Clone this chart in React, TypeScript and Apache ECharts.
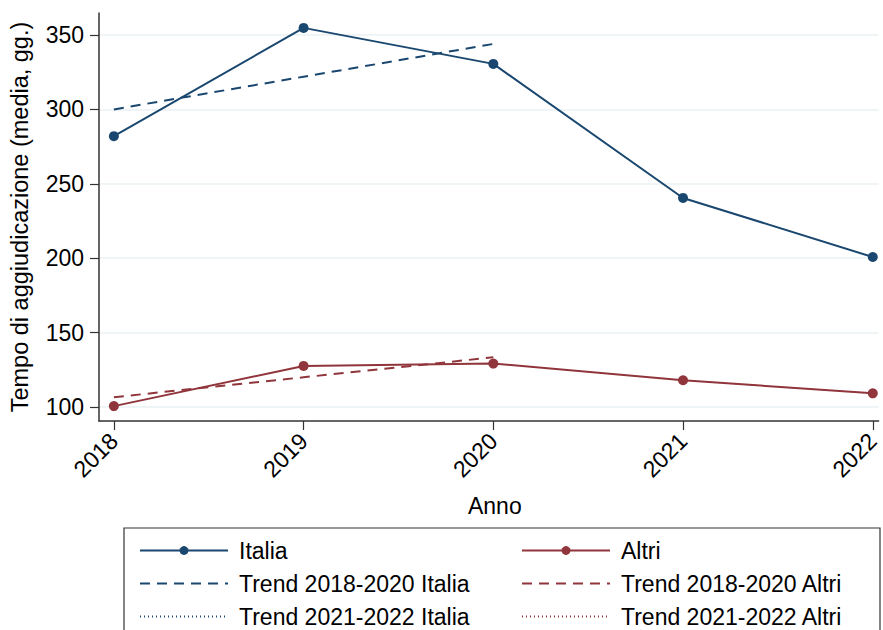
import React, { useEffect, useRef } from "react";
import * as echarts from "echarts";

const years = [2018, 2019, 2020, 2021, 2022];
const italia = [282, 354.8, 330.6, 240.5, 200.8];
const altri = [100.6, 127.6, 129.2, 118, 109.2];
const trend1820Italia = [300, 322, 344, null, null];
const trend1820Altri = [106.6, 120, 133.4, null, null];
const trend2122Italia = [null, null, null, 240.5, 200.8];
const trend2122Altri = [null, null, null, 118, 109.2];
const yTicks = [100, 150, 200, 250, 300, 350];

const NAVY = "#1a476f";
const MAROON = "#90353b";

const pairs = (vals: (number | null)[]) => years.map((y, i) => [y, vals[i]]);

export default function App() {
  const ref = useRef<HTMLDivElement>(null);
  useEffect(() => {
    document.body.style.margin = "0";
    const chart = echarts.init(ref.current!, null, { renderer: "svg" });
    const font = "Liberation Sans, Arial, sans-serif";
    const lineSeries = (name: string, vals: (number | null)[], color: string, type: any, width: number, sym: boolean, z: number) => ({
      name,
      type: "line",
      data: pairs(vals),
      z,
      symbol: sym ? "circle" : "none",
      symbolSize: 10,
      showSymbol: sym,
      connectNulls: false,
      lineStyle: { color, width, type },
      itemStyle: { color },
    });
    const legendText = { fontSize: 23, color: "#000", lineHeight: 22, padding: [0, 0, 0, 6], fontFamily: font };
    const hidden = { opacity: 0 };
    chart.setOption({
      animation: false,
      backgroundColor: "#ffffff",
      textStyle: { fontFamily: font },
      grid: { left: 97, right: 0, top: 13, bottom: 209, containLabel: false },
      xAxis: {
        type: "value",
        min: 2017.9216,
        max: 2022.031,
        name: "Anno",
        nameLocation: "middle",
        nameGap: 73,
        nameTextStyle: { fontSize: 23, color: "#000", fontFamily: font, padding: [0, 0, 0, 12] },
        axisLine: { show: true, lineStyle: { color: "#333", width: 1.5 } },
        axisTick: { show: true, length: 9, customValues: years, lineStyle: { color: "#333", width: 1.2 } },
        axisLabel: {
          customValues: years,
          rotate: 45,
          fontSize: 23,
          color: "#000",
          margin: 16,
          formatter: (v: number) => String(v),
        },
        splitLine: { show: false },
      },
      yAxis: {
        type: "value",
        min: 90.6,
        max: 364.8,
        name: "Tempo di aggiudicazione (media, gg.)",
        nameLocation: "middle",
        nameGap: 67,
        nameTextStyle: { fontSize: 23.5, color: "#000", fontFamily: font },
        axisLine: { show: true, lineStyle: { color: "#333", width: 1.5 } },
        axisTick: { show: true, length: 9, customValues: yTicks, lineStyle: { color: "#333", width: 1.2 } },
        axisLabel: { customValues: yTicks, fontSize: 23, color: "#000", margin: 15 },
        splitLine: { show: true, lineStyle: { color: "#eaf2f3", width: 1.5 } },
      },
      legend: [
        {
          orient: "vertical",
          left: 134,
          top: 534,
          height: 110,
          itemWidth: 88,
          itemHeight: 11,
          itemGap: 10,
          data: [
            { name: "Italia" },
            { name: "Trend 2018-2020 Italia", itemStyle: hidden },
            { name: "Trend 2021-2022 Italia", itemStyle: hidden },
          ],
          textStyle: legendText,
        },
        {
          orient: "vertical",
          left: 516,
          top: 534,
          height: 110,
          itemWidth: 88,
          itemHeight: 11,
          itemGap: 10,
          data: [
            { name: "Altri" },
            { name: "Trend 2018-2020 Altri", itemStyle: hidden },
            { name: "Trend 2021-2022 Altri", itemStyle: hidden },
          ],
          textStyle: legendText,
        },
      ],
      graphic: [
        {
          type: "rect",
          shape: { x: 124, y: 528, width: 756, height: 130 },
          style: { fill: "none", stroke: "#333", lineWidth: 1.2 },
          silent: true,
        },
      ],
      series: [
        lineSeries("Italia", italia, NAVY, "solid", 2, true, 5),
        lineSeries("Altri", altri, MAROON, "solid", 2, true, 5),
        lineSeries("Trend 2018-2020 Italia", trend1820Italia, NAVY, [10, 7], 2, false, 4),
        lineSeries("Trend 2018-2020 Altri", trend1820Altri, MAROON, [10, 7], 2, false, 4),
        lineSeries("Trend 2021-2022 Italia", trend2122Italia, NAVY, [1, 3], 1, false, 3),
        lineSeries("Trend 2021-2022 Altri", trend2122Altri, MAROON, [1, 3], 1, false, 3),
      ],
    });
    return () => chart.dispose();
  }, []);
  return <div ref={ref} style={{ width: 883, height: 630 }} />;
}
